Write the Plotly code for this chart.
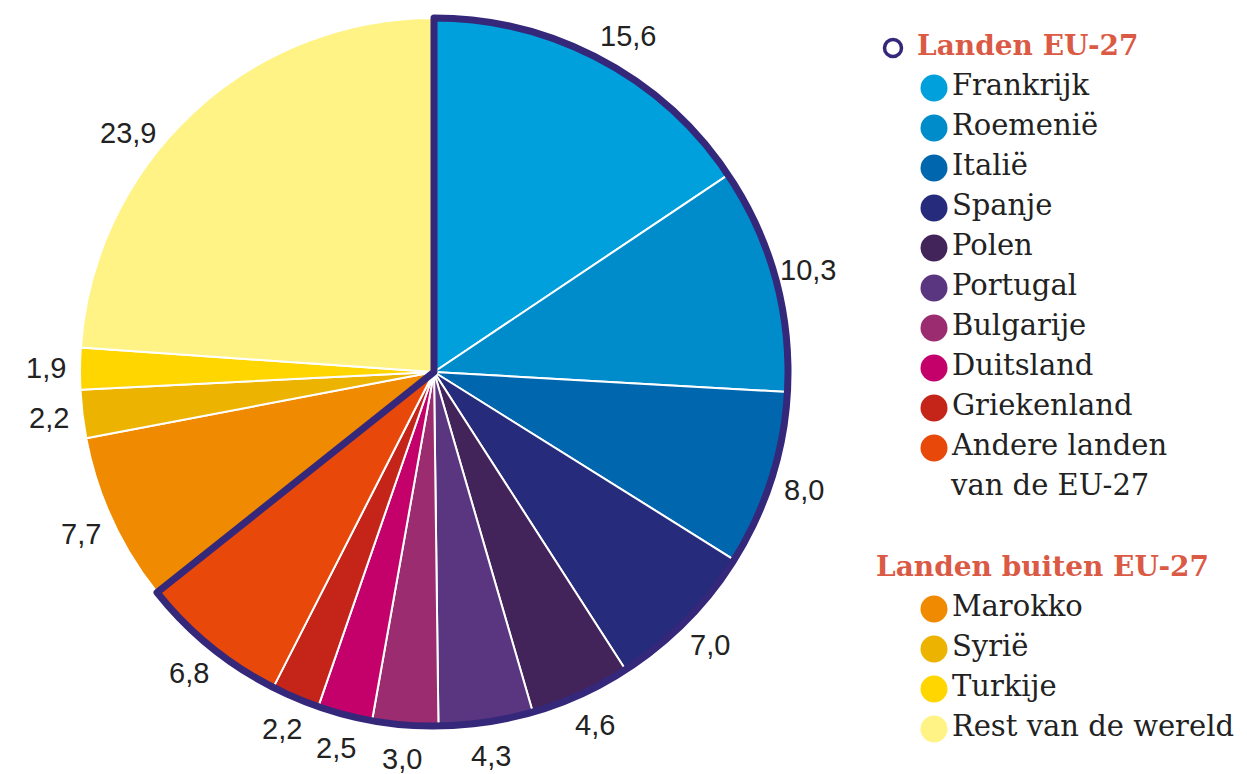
import math
import plotly.graph_objects as go

# ---- data ----
labels = ["Frankrijk", "Roemenië", "Italië", "Spanje", "Polen", "Portugal",
          "Bulgarije", "Duitsland", "Griekenland", "Andere landen van de EU-27",
          "Marokko", "Syrië", "Turkije", "Rest van de wereld"]
values = [15.6, 10.3, 8.0, 7.0, 4.6, 4.3, 3.0, 2.5, 2.2, 6.8, 7.7, 2.2, 1.9, 23.9]
groups = ["EU"] * 10 + ["nonEU"] * 4
colors = ["#00a0dc", "#008ccb", "#0067ae", "#262b7c", "#43245a", "#5a3580",
          "#9a2c6f", "#c4006a", "#c52419", "#e8490a",
          "#f08a00", "#ecb300", "#ffd600", "#fff385"]
group_titles = {"EU": "Landen EU-27", "nonEU": "Landen buiten EU-27"}
legend_lines = {"Andere landen van de EU-27": ["Andere landen", "van de EU-27"]}

# ---- style / layout ----
OUTLINE = "#35287a"
HEAD = "#db5a45"
TXT = "#222222"
W, H = 1247, 774
CX, CY, R = 434, 372, 354          # pie centre and radius in pixels
LABEL_R = 388                      # radius of the value labels
label_angle_shift = {"Rest van de wereld": -9, "Frankrijk": 2}

texts = [f"{v:.1f}".replace(".", ",") for v in values]

fig = go.Figure()

pie_domain = dict(x=[(CX - R) / W, (CX + R) / W],
                  y=[(H - CY - R) / H, (H - CY + R) / H])

fig.add_trace(go.Pie(
    labels=labels, values=values, sort=False, direction="clockwise", rotation=0,
    marker=dict(colors=colors, line=dict(color="white", width=2)),
    textinfo="none", domain=pie_domain, showlegend=False,
    hoverinfo="label+value",
))

# outline around EU group
eu_total = sum(v for v, g in zip(values, groups) if g == "EU")
non_total = sum(v for v, g in zip(values, groups) if g != "EU")
fig.add_trace(go.Pie(
    labels=[group_titles["EU"], group_titles["nonEU"]], values=[eu_total, non_total],
    sort=False, direction="clockwise", rotation=0,
    marker=dict(colors=["rgba(0,0,0,0)", "rgba(0,0,0,0)"],
                line=dict(color=[OUTLINE, "rgba(0,0,0,0)"], width=[7, 0])),
    textinfo="none", domain=pie_domain, showlegend=False, hoverinfo="skip",
))

# value labels at the middle angle of each slice
total = sum(values)
cum = 0.0
for lab, v, t in zip(labels, values, texts):
    mid = (cum + v / 2) / total * 360 + label_angle_shift.get(lab, 0)
    cum += v
    a = math.radians(mid)
    fig.add_annotation(x=CX + LABEL_R * math.sin(a), y=CY - LABEL_R * math.cos(a),
                       xref="x", yref="y", text=t, showarrow=False,
                       xanchor="center", yanchor="middle",
                       font=dict(family="Liberation Sans", size=29, color=TXT))

# ---- custom legend (pixel coords on hidden axes) ----
step = 40
hx, ix = 893, 934
FS = 29
y = 48
fig.add_trace(go.Scatter(
    x=[hx], y=[y], mode="markers",
    marker=dict(size=17, color="white", line=dict(color=OUTLINE, width=3.5)),
    showlegend=False, hoverinfo="skip",
))
fig.add_trace(go.Scatter(
    x=[hx + 24], y=[y], mode="text", text=[f"<b>{group_titles['EU']}</b>"],
    textposition="middle right",
    textfont=dict(family="DejaVu Serif", size=FS - 1, color=HEAD),
    showlegend=False, hoverinfo="skip",
))
xs, ys, ts, cs = [], [], [], []
extra_x, extra_y, extra_t = [], [], []
for lab, col, g in zip(labels, colors, groups):
    if g != "EU":
        continue
    y += step
    lines = legend_lines.get(lab, [lab])
    xs.append(ix); ys.append(y); ts.append(lines[0]); cs.append(col)
    for ln in lines[1:]:
        y += step
        extra_x.append(ix + 17); extra_y.append(y); extra_t.append(ln)
y += step * 2 + 1
fig.add_trace(go.Scatter(
    x=[hx - 17], y=[y], mode="text", text=[f"<b>{group_titles['nonEU']}</b>"],
    textposition="middle right",
    textfont=dict(family="DejaVu Serif", size=FS - 1, color=HEAD),
    showlegend=False, hoverinfo="skip",
))
for lab, col, g in zip(labels, colors, groups):
    if g == "EU":
        continue
    y += step
    xs.append(ix); ys.append(y); ts.append(lab); cs.append(col)

fig.add_trace(go.Scatter(
    x=xs, y=ys, mode="markers+text", text=ts, textposition="middle right",
    marker=dict(size=27, color=cs),
    textfont=dict(family="DejaVu Serif", size=FS, color=TXT),
    showlegend=False, hoverinfo="skip",
))
fig.add_trace(go.Scatter(
    x=extra_x, y=extra_y, mode="text", text=extra_t, textposition="middle right",
    textfont=dict(family="DejaVu Serif", size=FS, color=TXT),
    showlegend=False, hoverinfo="skip",
))

fig.update_layout(
    width=W, height=H, margin=dict(l=0, r=0, t=0, b=0),
    paper_bgcolor="white", plot_bgcolor="rgba(0,0,0,0)",
    xaxis=dict(range=[0, W], visible=False, domain=[0, 1], fixedrange=True),
    yaxis=dict(range=[H, 0], visible=False, domain=[0, 1], fixedrange=True),
    showlegend=False,
)

fig.write_html("out.html", config={"displayModeBar": False},
               post_script="document.body.style.margin='0';")
